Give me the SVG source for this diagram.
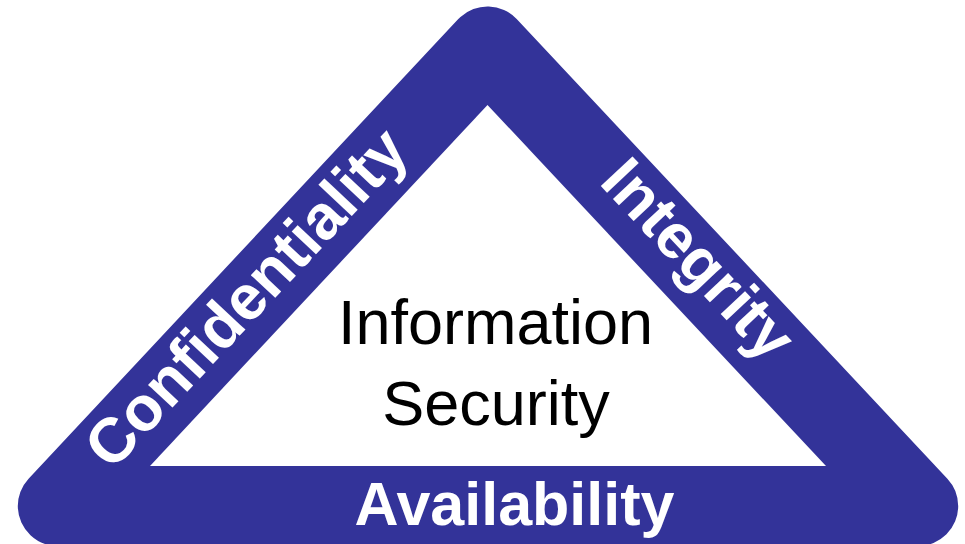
<svg xmlns="http://www.w3.org/2000/svg" width="965" height="544" viewBox="0 0 965 544">
  <style>
    .band { fill: #333399; stroke: #333399; stroke-width: 80; stroke-linejoin: round; }
    .core { fill: #ffffff; }
    .side { font-family: "Liberation Sans", Arial, sans-serif; font-weight: bold; fill: #ffffff; }
    .center { font-family: "Liberation Sans", Arial, sans-serif; fill: #000000; font-size: 63px; text-anchor: middle; }
  </style>
  <rect width="965" height="544" fill="#ffffff"/>

  <!-- CIA triangle: thick rounded band around a white core -->
  <g id="triangle">
    <polygon class="band" points="487.5,46.4 57.8,506 918.2,506"/>
    <polygon class="core" points="487.5,105 150,466 826,466"/>
  </g>

  <g id="confidentiality">
    <text class="side" font-size="63" transform="translate(112,472) rotate(-46.87)">Confidentiality</text>
  </g>

  <g id="integrity">
    <text class="side" font-size="63" transform="translate(598,183) rotate(46.87)">Integrity</text>
  </g>

  <g id="availability">
    <text class="side" font-size="61" x="514.5" y="525" text-anchor="middle">Availability</text>
  </g>

  <g id="information-security">
    <text class="center" x="495.5" y="344">Information</text>
    <text class="center" x="496" y="425">Security</text>
  </g>
</svg>
